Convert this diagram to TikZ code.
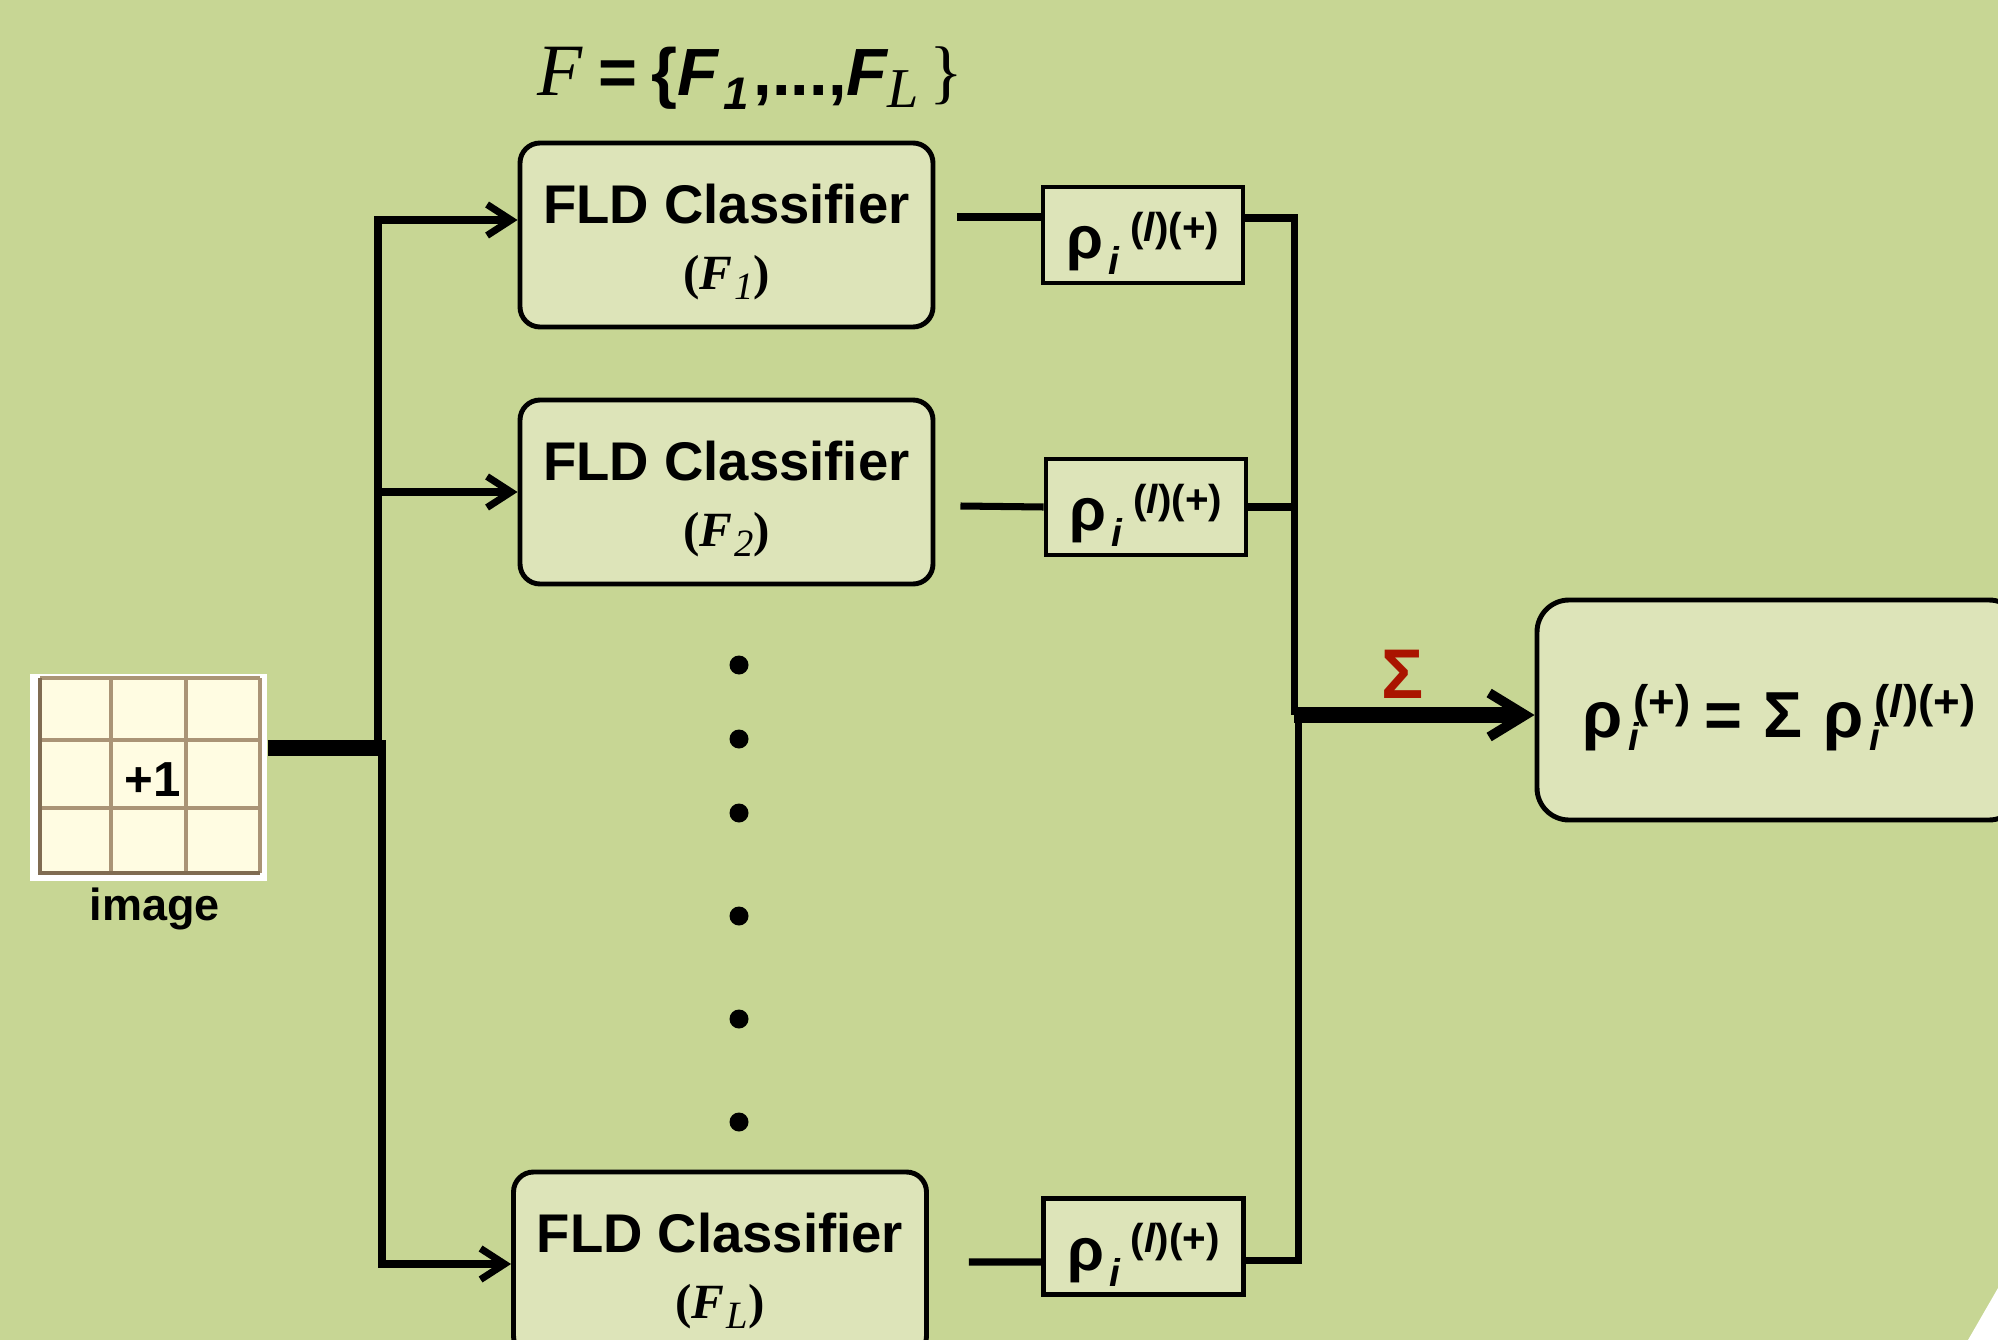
\documentclass[tikz,border=0pt]{standalone}
\usepackage{fontspec}
\setmainfont{Liberation Sans}
\newfontfamily\tnr{Liberation Serif}
\usepackage{graphicx}
\usepackage{tikz}
\usetikzlibrary{shapes,arrows.meta,positioning,calc}
\definecolor{slidebg}{RGB}{199,214,148}
\definecolor{boxfill}{RGB}{221,228,185}
\definecolor{cellfill}{RGB}{255,252,226}
\definecolor{gridline}{RGB}{170,148,118}
\definecolor{gridedge}{RGB}{128,108,82}
\definecolor{sigmared}{RGB}{170,20,0}
\newcommand{\fldtext}[1]{{\rule{0pt}{15pt}\fontsize{15.5}{18.8}\selectfont\bfseries FLD Classifier}\\{\fontsize{14}{14}\selectfont\tnr\bfseries(\textit{F}\kern0.5pt\raisebox{-2.8pt}{\fontsize{11}{11}\selectfont\mdseries\itshape #1})}}
\newcommand{\rhoil}{ρ\kern1.5pt\raisebox{-4.5pt}{\fontsize{11}{11}\selectfont\itshape i}\kern3pt\raisebox{5pt}{\fontsize{11.5}{11.5}\selectfont(\textit{l})(+)}}
\newcommand{\rhosub}[1]{ρ\kern1.5pt\rlap{\raisebox{-3.7pt}{\fontsize{11}{11}\selectfont\itshape i}}\kern1.5pt\raisebox{5.5pt}{\fontsize{13}{13}\selectfont #1}}
\tikzset{
    classifier/.style={rectangle, draw, fill=boxfill, minimum width=4.13cm, minimum height=1.84cm, rounded corners=0.2cm, line width=1.4pt, align=center, inner sep=0pt, font=\fontsize{15.5}{18.8}\selectfont},
    scorebox/.style={rectangle, draw, fill=boxfill, minimum width=2.0cm, minimum height=0.96cm, line width=1.4pt, inner sep=0pt, text height=14pt, text depth=0.4pt, font=\fontsize{17}{17}\selectfont\bfseries},
    sumbox/.style={rectangle, draw, fill=boxfill, minimum width=4.84cm, minimum height=2.2cm, rounded corners=0.32cm, line width=1.4pt, inner sep=0pt, text height=19pt, text depth=3.6pt, font=\fontsize{18.5}{18.5}\selectfont\bfseries},
    line/.style={draw, line width=2pt, -{Straight Barb[length=2.4mm, width=3.1mm]}},
    wire/.style={draw, line width=2pt},
    bus/.style={draw, line width=4.3pt},
    dot/.style={circle, fill, inner sep=0pt, minimum size=0.19cm}
}
\begin{document}
\begin{tikzpicture}
    \useasboundingbox (0,0) rectangle (19.98,-13.40);
    \clip (0,0) rectangle (19.98,-13.40);
    \fill[slidebg] (0,0) rectangle (19.98,-13.40);

    % feature set
    \node (setF) at (7.50,-0.78) {{\fontsize{21}{21}\selectfont\tnr\itshape F}\kern4.5pt{\fontsize{19}{19}\selectfont\bfseries =\kern4pt\{\kern0pt\itshape F\kern1.5pt\raisebox{-4pt}{\fontsize{13}{13}\selectfont 1}\kern1.5pt\upshape,...,\kern0pt\itshape F}\raisebox{-3.5pt}{\fontsize{16}{16}\selectfont\tnr\itshape L}\kern3pt{\fontsize{20}{20}\selectfont\tnr\}}};

    % input image
    \node [rectangle, fill=white, minimum width=2.37cm, minimum height=2.07cm, inner sep=0pt] (img) at (1.485,-7.775) {};
    \fill[cellfill] (0.40,-6.78) rectangle (2.60,-8.73);
    \foreach \x in {1.11,1.86,2.60} \draw[gridline, line width=0.9pt] (\x,-6.78) -- (\x,-8.73);
    \foreach \y in {-6.78,-7.40,-8.08} \draw[gridline, line width=0.9pt] (0.40,\y) -- (2.60,\y);
    \draw[gridedge, line width=0.9pt] (0.40,-6.78) -- (0.40,-8.73) -- (2.60,-8.73);
    \node [font=\fontsize{14}{14}\selectfont\bfseries] (plusone) at (1.53,-7.80) {+1};
    \node [font=\fontsize{12.8}{12.8}\selectfont\bfseries, anchor=base] (imglbl) at (1.55,-9.20) {image};

    % classifiers
    \node [classifier] (cls1) at (7.265,-2.35) {\fldtext{1}};
    \node [classifier, below of=cls1, node distance=2.57cm] (cls2) {\fldtext{2}};
    \node [classifier] (clsL) at (7.20,-12.64) {\fldtext{L}};
    \foreach \y [count=\i] in {-6.65,-7.39,-8.13,-9.16,-10.19,-11.22}
        \node [dot] (dot\i) at (7.39,\y) {};

    % scores
    \node [scorebox, right of=cls1, node distance=4.165cm] (rho1) {\rhoil};
    \node [scorebox] (rho2) at (11.46,-5.07) {\rhoil};
    \node [scorebox] (rhoL) at (11.435,-12.465) {\rhoil};
    \node [sumbox] (out) at (17.79,-7.10) {\rhosub{(+)}\kern4pt=\kern6pt Σ\kern6pt\rhosub{(\textit{l})(+)}};

    \coordinate (jup) at (3.78,-7.48);
    \coordinate (jlo) at (3.82,-7.48);
    \coordinate (sumup) at (12.94,-7.15);
    \coordinate (sumlo) at (12.98,-7.15);

    \path [bus] ([yshift=0.295cm]img.east) -- ([xshift=0.04cm]jlo);
    \path [line] (jup) |- ([yshift=0.15cm]cls1.west);
    \path [line] (jup |- cls2.west) -- (cls2.west);
    \path [line] (jlo) |- (clsL.west);

    \path [wire] ([xshift=0.22cm,yshift=0.18cm]cls1.east) -- ([yshift=0.18cm]rho1.west);
    \path [wire] ([xshift=0.25cm,yshift=-0.14cm]cls2.east) -- (rho2.west);
    \path [wire] ([xshift=0.40cm,yshift=0.02cm]clsL.east) -- ([yshift=-0.155cm]rhoL.west);
    \path [wire] ([yshift=0.17cm]rho1.east) -| (sumup);
    \path [wire] (rho2.east) -- (rho2.east -| sumup);
    \path [wire] ([yshift=-0.14cm]rhoL.east) -| (sumlo);
    \path [bus, -{Straight Barb[length=3.6mm, width=4.4mm, line width=2.8pt]}] (sumup) -- (out.west |- sumup)
        node [pos=0.45, above=0.09cm, inner sep=0pt, text=sigmared, font=\fontsize{20}{20}\selectfont\bfseries] (sigma) {Σ};

    \fill[white] (19.98,-12.88) -- (19.98,-13.40) -- (19.68,-13.40) -- cycle;
\end{tikzpicture}
\end{document}
